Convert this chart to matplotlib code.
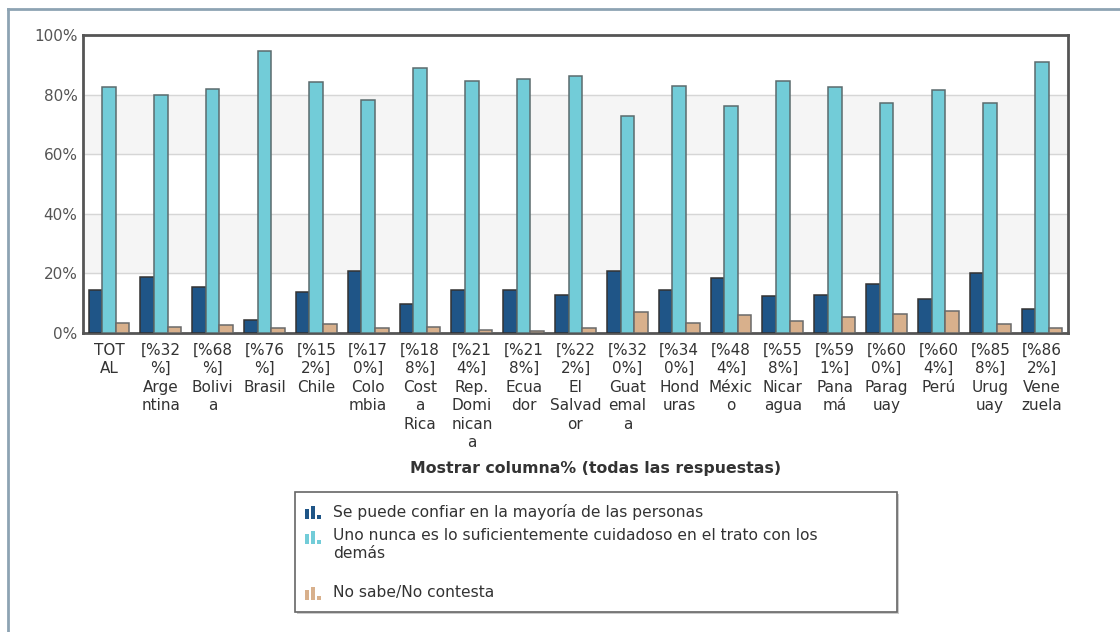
import matplotlib
matplotlib.use("Agg")
import matplotlib.pyplot as plt
from matplotlib.patches import Rectangle
from matplotlib.lines import Line2D
import numpy as np

# datos
tick_labels = [
    "TOT\nAL", "[%32\n%]\nArge\nntina", "[%68\n%]\nBolivi\na", "[%76\n%]\nBrasil",
    "[%15\n2%]\nChile", "[%17\n0%]\nColo\nmbia", "[%18\n8%]\nCost\na\nRica",
    "[%21\n4%]\nRep.\nDomi\nnican\na", "[%21\n8%]\nEcua\ndor", "[%22\n2%]\nEl\nSalvad\nor",
    "[%32\n0%]\nGuat\nemal\na", "[%34\n0%]\nHond\nuras", "[%48\n4%]\nMéxic\no",
    "[%55\n8%]\nNicar\nagua", "[%59\n1%]\nPana\nmá", "[%60\n0%]\nParag\nuay",
    "[%60\n4%]\nPerú", "[%85\n8%]\nUrug\nuay", "[%86\n2%]\nVene\nzuela",
]
confiar = [14.5, 18.7, 15.6, 4.4, 13.9, 20.9, 9.8, 14.5, 14.5, 12.9,
           20.9, 14.5, 18.3, 12.5, 12.9, 16.5, 11.3, 20.3, 8.1]
cuidadoso = [82.4, 79.8, 81.8, 94.6, 84.1, 78.1, 88.8, 84.6, 85.1, 86.1,
             72.8, 82.9, 76.2, 84.7, 82.4, 77.1, 81.5, 77.1, 91.0]
nsnc = [3.5, 2.1, 2.7, 1.6, 2.9, 1.6, 2.1, 1.0, 0.8, 1.6,
        7.0, 3.5, 6.1, 4.0, 5.5, 6.5, 7.5, 2.9, 1.6]
series_names = ["Se puede confiar en la mayoría de las personas",
                "Uno nunca es lo suficientemente cuidadoso en el trato con los\ndemás",
                "No sabe/No contesta"]
colors = ["#1f5587", "#72ccd8", "#d8b08c"]
edges = ["#333333", "#5b6b6d", "#6a6a6a"]

W, H = 1120, 632
fig = plt.figure(figsize=(W / 100, H / 100), dpi=100)
ax = fig.add_axes([83 / W, 1 - 333 / H, (1068 - 83) / W, (333 - 35) / H])

x = np.arange(len(tick_labels))
bw = 0.262
for i, vals in enumerate([confiar, cuidadoso, nsnc]):
    ax.bar(x + (i - 1) * bw, vals, bw, color=colors[i], edgecolor=edges[i],
           linewidth=1.1, zorder=3)

# bandas alternas y lineas de cuadricula
for lo in (20, 60):
    ax.axhspan(lo, lo + 20, color="#f5f5f5", zorder=0)
for g in (20, 40, 60, 80):
    ax.axhline(g, color="#d6d6d6", lw=1, zorder=1)

ax.set_xlim(-0.5, len(tick_labels) - 0.5)
ax.set_ylim(0, 100)
ax.set_yticks([0, 20, 40, 60, 80, 100])
ax.set_yticklabels(["0%", "20%", "40%", "60%", "80%", "100%"], color="#555555", fontsize=11)
ax.set_xticks(x)
ax.set_xticklabels(tick_labels, fontsize=11, color="#333333", va="top", linespacing=1.29)
ax.tick_params(axis="both", length=0)
ax.tick_params(axis="x", pad=7)
ax.tick_params(axis="y", pad=4)
for s in ax.spines.values():
    s.set_color("#555555")
    s.set_linewidth(2)

fig.text(596 / W, 1 - 468 / H, "Mostrar columna% (todas las respuestas)", ha="center",
         va="center", fontsize=11.3, fontweight="bold", color="#333333")

# marco exterior
fig.add_artist(Line2D([8 / W, 1], [1 - 9 / H, 1 - 9 / H], color="#8da3b3", lw=2))
fig.add_artist(Line2D([8 / W, 8 / W], [0, 1 - 9 / H], color="#8da3b3", lw=2))

# leyenda
fig.add_artist(Rectangle((297 / W, 1 - 614 / H), 602 / W, 120 / H, transform=fig.transFigure,
                         facecolor="#cccccc", edgecolor="none", zorder=1))
fig.add_artist(Rectangle((295 / W, 1 - 612 / H), 602 / W, 120 / H, transform=fig.transFigure,
                         facecolor="white", edgecolor="#666666", lw=1.2, zorder=2))
ys = [512, 537, 593]
for i, name in enumerate(series_names):
    yc = ys[i]
    for k, hh in enumerate([10, 13, 4]):
        fig.add_artist(Rectangle(((305 + k * 6) / W, 1 - (yc + 7) / H), 4 / W, hh / H,
                                 transform=fig.transFigure, facecolor=colors[i],
                                 edgecolor="none", zorder=3))
    ty = yc if i != 1 else 528
    fig.text(333 / W, 1 - ty / H, name, ha="left", va="center" if i != 1 else "top",
             fontsize=11.2, color="#333333", linespacing=1.25, zorder=3)

fig.savefig("out.png", dpi=100)
